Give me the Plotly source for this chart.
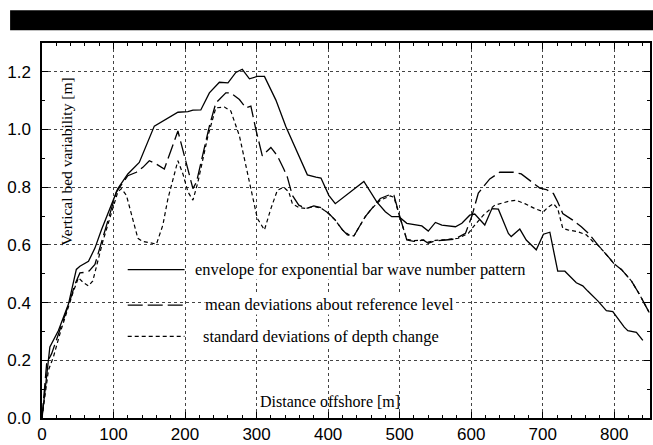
import plotly.graph_objects as go

# ---------------- data ----------------
dist_env = [0, 11, 23, 37, 48, 53, 65, 74, 83, 95, 106, 120, 136, 157, 174, 190, 204, 211, 222,
            234, 248, 260, 271, 280, 290, 301, 311, 327, 341, 355, 371, 383, 390, 401, 410, 450,
            459, 468, 480, 489, 499, 510, 531, 540, 550, 559, 578, 587, 598, 605, 619, 629, 638,
            652, 656, 668, 677, 691, 701, 710, 721, 731, 747, 756, 763, 777, 789, 798, 814, 819,
            831, 840]
envelope = [0, 0.246, 0.303, 0.395, 0.515, 0.526, 0.543, 0.589, 0.652, 0.726, 0.795, 0.846, 0.886,
            1.012, 1.037, 1.06, 1.062, 1.067, 1.068, 1.127, 1.164, 1.162, 1.198, 1.209, 1.176,
            1.184, 1.184, 1.102, 1.01, 0.932, 0.843, 0.835, 0.832, 0.772, 0.743, 0.82, 0.783,
            0.749, 0.715, 0.698, 0.698, 0.675, 0.666, 0.648, 0.678, 0.669, 0.663, 0.675, 0.703,
            0.707, 0.669, 0.726, 0.724, 0.64, 0.629, 0.655, 0.617, 0.583, 0.637, 0.644, 0.509,
            0.509, 0.469, 0.458, 0.44, 0.406, 0.372, 0.369, 0.315, 0.303, 0.297, 0.269]

dist_mean = [0, 6.5, 13.5, 25, 39, 46, 53, 60, 66, 74, 81, 104, 120, 132, 141, 150, 160, 171, 190,
             199, 211, 216, 234, 243, 257, 264, 276, 285, 292, 299, 308, 320, 329, 338, 343, 350,
             359, 369, 380, 390, 401, 410, 420, 427, 436, 445, 452, 461, 473, 487, 492, 501, 510,
             520, 533, 540, 550, 564, 577, 592, 601, 610, 626, 640, 659, 670, 684, 696, 705, 715,
             721, 728, 742, 754, 766, 777, 793, 800, 810, 824, 835, 849]
mean_dev = [0, 0.189, 0.223, 0.303, 0.406, 0.463, 0.503, 0.505, 0.51, 0.532, 0.589, 0.784, 0.84,
            0.852, 0.869, 0.892, 0.88, 0.863, 0.995, 0.909, 0.795, 0.818, 1.012, 1.092, 1.127,
            1.127, 1.104, 1.075, 1.081, 1.0, 0.909, 0.938, 0.909, 0.863, 0.835, 0.772, 0.738,
            0.726, 0.735, 0.729, 0.709, 0.686, 0.652, 0.635, 0.631, 0.669, 0.698, 0.726, 0.761,
            0.775, 0.772, 0.692, 0.617, 0.612, 0.617, 0.606, 0.614, 0.617, 0.62, 0.64, 0.70,
            0.78, 0.829, 0.852, 0.852, 0.846, 0.818, 0.797, 0.792, 0.778, 0.749, 0.709, 0.686,
            0.663, 0.635, 0.60, 0.555, 0.534, 0.515, 0.475, 0.43, 0.365]

dist_std = [0, 9, 16, 26, 44, 51, 58, 65, 71, 78, 85, 106, 111, 118, 127, 134, 141, 153, 160, 169,
            176, 190, 197, 204, 211, 218, 232, 243, 255, 264, 276, 290, 301, 311, 320, 329, 338,
            345, 350, 359, 369, 380, 390, 401, 410, 420, 429, 436, 445, 452, 461, 473, 487, 492,
            501, 510, 520, 533, 540, 550, 564, 582, 596, 605, 617, 633, 652, 663, 675, 689, 701,
            708, 715, 721, 728, 735, 749, 761, 770, 777, 793, 800, 810, 824, 835, 849]
std_dev = [0, 0.166, 0.212, 0.30, 0.44, 0.486, 0.469, 0.458, 0.475, 0.543, 0.612, 0.784, 0.795,
           0.772, 0.692, 0.623, 0.612, 0.606, 0.603, 0.669, 0.76, 0.892, 0.846, 0.784, 0.755,
           0.818, 0.978, 1.075, 1.078, 1.064, 0.978, 0.818, 0.692, 0.652, 0.726, 0.789, 0.80,
           0.784, 0.743, 0.73, 0.726, 0.733, 0.728, 0.708, 0.686, 0.652, 0.635, 0.631, 0.669,
           0.698, 0.726, 0.755, 0.77, 0.765, 0.69, 0.62, 0.615, 0.617, 0.61, 0.616, 0.618, 0.623,
           0.64, 0.669, 0.703, 0.738, 0.751, 0.755, 0.743, 0.726, 0.715, 0.732, 0.743, 0.726,
           0.658, 0.652, 0.646, 0.635, 0.612, 0.60, 0.555, 0.534, 0.515, 0.475, 0.43, 0.365]

x_ticks = [0, 100, 200, 300, 400, 500, 600, 700, 800]
y_ticks = [0.0, 0.2, 0.4, 0.6, 0.8, 1.0, 1.2]

legend_labels = ["envelope for exponential bar wave number pattern",
                 "mean deviations about reference level",
                 "standard deviations of depth change"]
x_title = "Distance offshore [m]"
y_title = "Vertical bed variability [m]"

# ---------------- figure ----------------
SERIF = "Liberation Serif, Times New Roman, serif"
SANS = "Liberation Sans, Arial, sans-serif"
dash_long = "15px,5px"
dash_short = "4px,3px"

fig = go.Figure()
fig.add_trace(go.Scatter(x=dist_std, y=std_dev, mode="lines",
                         line=dict(color="black", width=1.2, dash=dash_short)))
fig.add_trace(go.Scatter(x=dist_mean, y=mean_dev, mode="lines",
                         line=dict(color="black", width=1.3, dash=dash_long)))
fig.add_trace(go.Scatter(x=dist_env, y=envelope, mode="lines",
                         line=dict(color="black", width=1.3)))

fig.update_layout(
    width=653, height=445,
    margin=dict(l=42, r=1, t=43, b=23),
    plot_bgcolor="white", paper_bgcolor="white",
    showlegend=False,
)

common = dict(showline=True, linecolor="black", linewidth=1.5, mirror="ticks",
              ticks="inside", ticklen=6, tickcolor="black", tickwidth=1,
              showgrid=True, gridcolor="#444", gridwidth=1, griddash="dot",
              zeroline=False, tickfont=dict(family=SANS, size=17, color="black"))

fig.update_xaxes(range=[0, 850], tickvals=x_ticks,
                 minor=dict(dtick=20, tick0=0, ticks="inside", ticklen=3,
                            tickcolor="black", showgrid=False),
                 **common)
fig.update_yaxes(range=[0, 1.3], tickvals=y_ticks, tickformat=".1f",
                 ticklabelstandoff=6,
                 minor=dict(dtick=0.1, tick0=0, ticks="inside", ticklen=3,
                            tickcolor="black", showgrid=False),
                 **common)

PW, PH, L, T = 610, 379, 42, 43


def px_to_paper(px, py):
    return (px - L) / PW, (T + PH - py) / PH


annotations = []
# axis titles inside the plot
ax_, ay_ = px_to_paper(67, 163)
annotations.append(dict(text=y_title, x=ax_, y=ay_, xref="paper", yref="paper",
                        textangle=-90, showarrow=False, xanchor="center", yanchor="middle",
                        font=dict(family=SERIF, size=15.5, color="black")))
ax_, ay_ = px_to_paper(331, 405)
annotations.append(dict(text=x_title, x=ax_, y=ay_, xref="paper", yref="paper",
                        showarrow=False, xanchor="center", yanchor="middle",
                        font=dict(family=SERIF, size=16, color="black")))

# legend (keys + labels) inside the plot
rows_text = [(195, 272), (205, 307), (203, 340)]
rows_line = [272, 308, 339.5]
dashes = ["solid", dash_long, dash_short]
shapes = []
for lab, (tx, ty), ly, dsh in zip(legend_labels, rows_text, rows_line, dashes):
    px0, py0 = px_to_paper(tx, ty)
    annotations.append(dict(text=lab, x=px0, y=py0, xref="paper", yref="paper",
                            showarrow=False, xanchor="left", yanchor="middle",
                            bgcolor="white", borderpad=0,
                            font=dict(family=SERIF, size=16.4, color="black")))
    x0, y0 = px_to_paper(128, ly)
    x1, _ = px_to_paper(185, ly)
    shapes.append(dict(type="line", xref="paper", yref="paper", x0=x0, x1=x1, y0=y0, y1=y0,
                       line=dict(color="black", width=1.3, dash=dsh)))

# black band at the top of the image
bx0, by0 = px_to_paper(10, 30)
bx1, by1 = px_to_paper(660, 10)
shapes.append(dict(type="rect", xref="paper", yref="paper", x0=bx0, x1=bx1, y0=by0, y1=by1,
                   fillcolor="black", line=dict(width=0), layer="above"))

fig.update_layout(annotations=annotations, shapes=shapes)

fig.write_html("out.html",
               config={"displayModeBar": False},
               post_script="document.body.style.margin='0';document.body.style.overflow='hidden';")
